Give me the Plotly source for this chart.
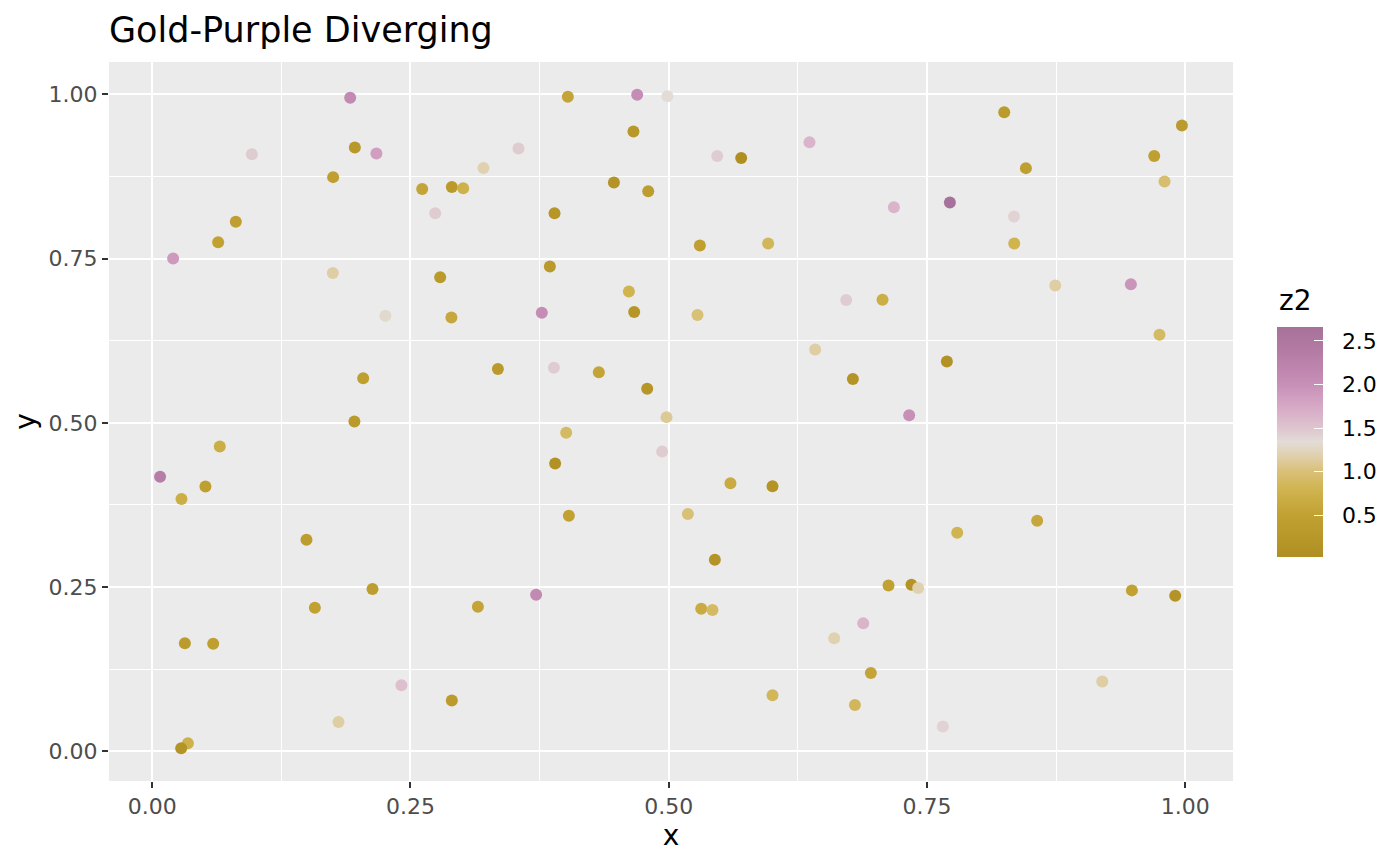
import plotly.graph_objects as go

# points
x = [0.1917, 0.0965, 0.1962, 0.2171, 0.1752, 0.3207, 0.2614, 0.2901, 0.3011, 0.2740,
     0.0810, 0.0639, 0.0203, 0.1749, 0.2788, 0.2258, 0.2897, 0.3347, 0.2043, 0.1958,
     0.0655, 0.0077, 0.0516, 0.0284, 0.1494, 0.2133, 0.1575, 0.3153, 0.0317, 0.0591,
     0.2413, 0.2901, 0.1804, 0.0346, 0.0281, 0.4024, 0.4695, 0.4988, 0.4659, 0.3546,
     0.5470, 0.5702, 0.6363, 0.4470, 0.4802, 0.7180, 0.3895, 0.5302, 0.5963, 0.3850,
     0.4615, 0.3772, 0.4666, 0.5279, 0.6718, 0.7070, 0.6418, 0.3889, 0.4324, 0.4792,
     0.4979, 0.4008, 0.4937, 0.3901, 0.5598, 0.6005, 0.4034, 0.5186, 0.5447, 0.7128,
     0.3717, 0.5315, 0.5424, 0.6883, 0.6602, 0.6957, 0.6005, 0.6803, 0.8248, 0.9968,
     0.9700, 0.8458, 0.9800, 0.7722, 0.8342, 0.8345, 0.8742, 0.9474, 0.9751, 0.7693,
     0.7328, 0.7793, 0.8567, 0.7350, 0.7415, 0.9484, 0.9903, 0.9197, 0.7654, 0.6783]
y = [0.9950, 0.9090, 0.9190, 0.9100, 0.8740, 0.8880, 0.8560, 0.8590, 0.8570, 0.8190,
     0.8060, 0.7750, 0.7500, 0.7280, 0.7215, 0.6630, 0.6605, 0.5820, 0.5680, 0.5020,
     0.4640, 0.4180, 0.4030, 0.3840, 0.3220, 0.2470, 0.2185, 0.2200, 0.1646, 0.1636,
     0.1006, 0.0773, 0.0447, 0.0122, 0.0046, 0.9965, 0.9995, 0.9970, 0.9436, 0.9177,
     0.9060, 0.9030, 0.9270, 0.8660, 0.8526, 0.8280, 0.8190, 0.7700, 0.7730, 0.7380,
     0.7000, 0.6677, 0.6687, 0.6640, 0.6870, 0.6875, 0.6117, 0.5840, 0.5770, 0.5520,
     0.5087, 0.4848, 0.4562, 0.4380, 0.4080, 0.4035, 0.3587, 0.3613, 0.2916, 0.2525,
     0.2383, 0.2169, 0.2150, 0.1950, 0.1723, 0.1194, 0.0854, 0.0706, 0.9726, 0.9527,
     0.9060, 0.8877, 0.8674, 0.8354, 0.8140, 0.7729, 0.7090, 0.7108, 0.6340, 0.5934,
     0.5117, 0.3328, 0.3510, 0.2535, 0.2485, 0.2450, 0.2367, 0.1062, 0.0377, 0.5666]
z2 = [2.10, 1.45, 0.25, 1.85, 0.45, 1.20, 0.55, 0.30, 0.75, 1.45,
      0.45, 0.50, 1.90, 1.15, 0.30, 1.30, 0.60, 0.30, 0.45, 0.30,
      0.70, 2.35, 0.45, 0.70, 0.40, 0.40, 0.50, 0.55, 0.35, 0.45,
      1.55, 0.35, 1.15, 0.75, 0.15, 0.55, 2.05, 1.35, 0.25, 1.45,
      1.45, 0.02, 1.65, 0.15, 0.40, 1.65, 0.20, 0.45, 0.85, 0.30,
      0.80, 2.05, 0.20, 1.00, 1.45, 0.70, 1.15, 1.45, 0.55, 0.20,
      1.10, 0.90, 1.45, 0.10, 0.65, 0.15, 0.50, 1.00, 0.15, 0.50,
      2.10, 0.65, 0.90, 1.65, 1.20, 0.55, 0.85, 0.85, 0.35, 0.35,
      0.45, 0.45, 0.95, 2.66, 1.40, 0.80, 1.15, 1.95, 0.90, 0.10,
      2.00, 0.80, 0.60, 0.15, 1.20, 0.50, 0.15, 1.15, 1.40, 0.15]

cbar_ticks = [0.5, 1.0, 1.5, 2.0, 2.5]
axis_ticks = [0.0, 0.25, 0.5, 0.75, 1.0]

# gold -> light -> purple, stops given in z units
stops_z = [0.02, 0.5, 0.8, 1.0, 1.15, 1.34, 1.5, 1.75, 2.0, 2.3, 2.66]
stops_c = ['#B08F22', '#C2A133', '#D0B450', '#D9C077', '#DFCDA4', '#E2DCD6',
           '#DEC5CF', '#D7A8C6', '#C790B7', '#B87FA8', '#A6719A']
zmin, zmax = min(z2), max(z2)
colorscale = [[(v - zmin) / (zmax - zmin), c] for v, c in zip(stops_z, stops_c)]


def expand(vals, f=0.05):
    lo, hi = min(vals), max(vals)
    d = (hi - lo) * f
    return [lo - d, hi + d]


fig = go.Figure()
fig.add_trace(go.Scatter(
    x=x, y=y, mode='markers',
    marker=dict(
        size=12, color=z2, colorscale=colorscale, cmin=zmin, cmax=zmax,
        line=dict(width=0),
        colorbar=dict(
            x=1.0391, xanchor='left', y=0.6314, yanchor='top',
            thickness=46, thicknessmode='pixels',
            len=230, lenmode='pixels', xpad=0, ypad=0,
            outlinewidth=0,
            tickvals=cbar_ticks,
            ticktext=['\u00a0\u00a0' + f'{v:.1f}' for v in cbar_ticks],
            ticks='inside', tickcolor='white', ticklen=9, tickwidth=1.2,
            tickfont=dict(size=22, color='black'),
        ),
    ),
    showlegend=False,
))

axis_common = dict(
    showgrid=True, gridcolor='white', gridwidth=2.2,
    zeroline=False, showline=False,
    ticks='outside', ticklen=6, tickwidth=2, tickcolor='#333333',
    tickfont=dict(size=22, color='#4D4D4D'),
    tickvals=axis_ticks, ticktext=[f'{v:.2f}' for v in axis_ticks],
    minor=dict(tickvals=[0.125, 0.375, 0.625, 0.875], showgrid=True,
               gridcolor='white', gridwidth=1.1, ticks=''),
)

fig.update_xaxes(range=expand(x), title=dict(text='x', font=dict(size=28, color='black'), standoff=4),
                 **axis_common)
fig.update_yaxes(range=expand(y), title=dict(text='y', font=dict(size=28, color='black'), standoff=4),
                 **axis_common)

fig.add_annotation(text='z2', xref='paper', yref='paper', x=1.0391, y=(773 - 292) / 719,
                   xanchor='left', yanchor='middle', showarrow=False,
                   font=dict(size=28, color='black'))

fig.update_layout(
    width=1400, height=866,
    margin=dict(l=101, r=175, t=54, b=93),
    paper_bgcolor='white', plot_bgcolor='#EBEBEB',
    font=dict(family='DejaVu Sans'),
    title=dict(text='Gold-Purple Diverging', font=dict(size=35, color='black'),
               x=101 / 1400, xref='container', xanchor='left',
               y=1 - 22 / 866, yref='container', yanchor='middle'),
)

fig.write_html('out.html')
